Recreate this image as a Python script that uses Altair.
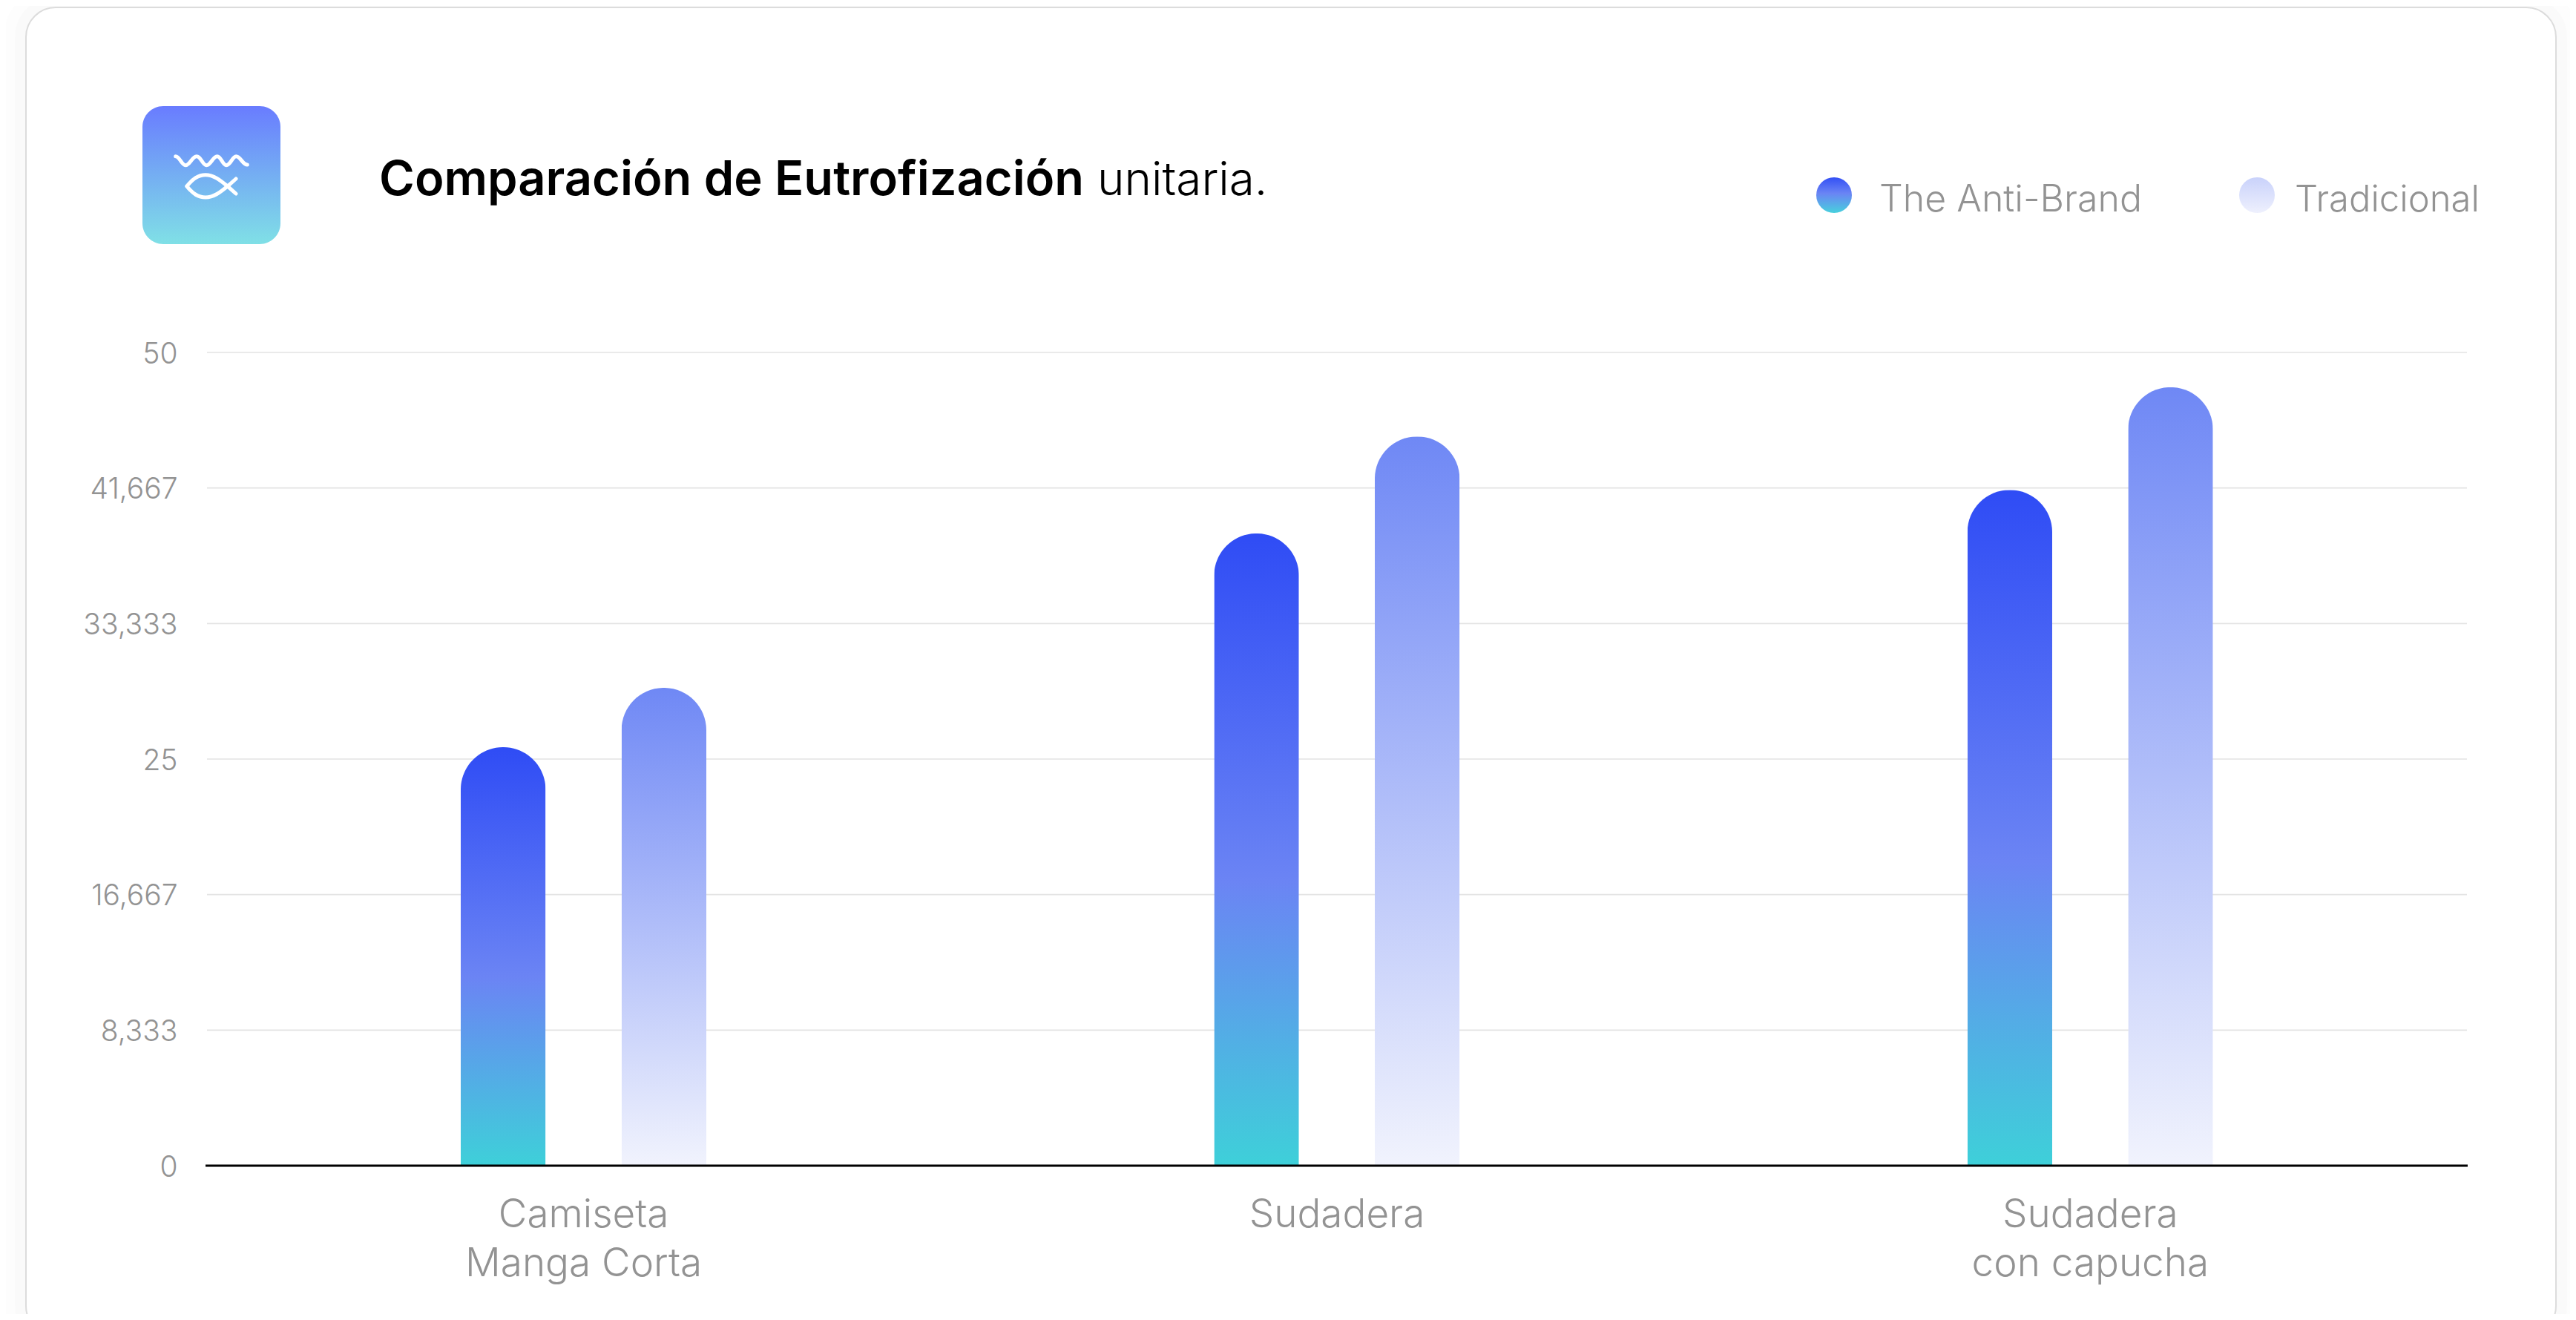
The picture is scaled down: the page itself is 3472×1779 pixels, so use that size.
import altair as alt
import pandas as pd

products = ["Camiseta|\u2002Manga Corta", "Sudadera", "Sudadera|con capucha"]
series_names = ["The Anti-Brand", "Tradicional"]
anti_brand = [25.73, 38.87, 41.55]
tradicional = [29.38, 44.83, 47.86]
tick_values = [0, 50/6, 100/6, 25, 200/6, 250/6, 50]
tick_labels = ["0", "8,333", "16,667", "25", "33,333", "41,667", "50"]

OX, OY, W, H = 279, 475, 3046, 1096
FONT = "Inter"
GREY = "#939393"


def px(v):
    return alt.value(v - OX)


def py(v):
    return alt.value(v - OY)


def grad(stops):
    return alt.LinearGradient(
        gradient="linear", x1=0, x2=0, y1=0, y2=1,
        stops=[alt.GradientStop(offset=o, color=c) for o, c in stops],
    )


BLUE = grad([(0, "#2f4cf5"), (0.55, "#6b84f4"), (1, "#3ed0d9")])
LIGHT = grad([(0, "#6f88f5"), (1, "#f1f3fd")])
ICON = grad([(0, "#697cff"), (1, "#80e0e6")])
DOT_A = grad([(0, "#3350f5"), (0.45, "#6a84f4"), (1, "#47d0dd")])
DOT_B = grad([(0, "#c9d2fb"), (1, "#eef0fd")])

rows = [{"p": p, "s": series_names[0], "v": a} for p, a in zip(products, anti_brand)]
rows += [{"p": p, "s": series_names[1], "v": b} for p, b in zip(products, tradicional)]
data = pd.DataFrame(rows)
one = pd.DataFrame({"a": [0]})
label_map = ",".join(f"{int(v)}:'{t}'" for v, t in zip(tick_values, tick_labels))

x = alt.X(
    "p:N", sort=products, title=None,
    scale=alt.Scale(paddingInner=0, paddingOuter=0),
    axis=alt.Axis(
        labelExpr="split(datum.label, '|')", labelAngle=0, labelFont=FONT, labelFontWeight=300,
        labelFontSize=53, labelColor=GREY, labelPadding=82, labelLineHeight=66, ticks=False,
        domain=False, grid=False, labelBaseline="alphabetic", labelLimit=1000, zindex=1,
    ),
)
y = alt.Y(
    "v:Q", title=None, scale=alt.Scale(domain=[0, 50], nice=False),
    axis=alt.Axis(
        values=tick_values,
        labelExpr="{" + label_map + "}[floor(datum.value)]",
        labelFont=FONT, labelFontWeight=300, labelFontSize=39, labelColor=GREY, labelPadding=40,
        ticks=False, domain=False, grid=False, labelOffset=2, zindex=1,
    ),
)
xo = alt.XOffset(
    "s:N", sort=series_names,
    scale=alt.Scale(paddingInner=0.472, paddingOuter=0, range=[342, 673]),
)


def bars(name, fill):
    return (
        alt.Chart(data[data.s == name])
        .mark_bar(color=fill, cornerRadiusTopLeft=57, cornerRadiusTopRight=57)
        .encode(x=x, y=y, xOffset=xo)
    )


grid = alt.Chart(pd.DataFrame({"v": tick_values[1:]})).mark_rule(
    color="#e3e3e3", strokeWidth=1.6
).encode(y=y)


# decorative layers
def halo(width, op):
    return alt.Chart(one).mark_rect(
        fill="white", fillOpacity=0, stroke="#000000", strokeOpacity=op, strokeWidth=width, cornerRadius=40
    ).encode(x=px(35), x2=px(3445), y=py(10), y2=py(1800))


card = alt.Chart(one).mark_rect(
    fill="white", stroke="#dcdcdc", strokeWidth=2, cornerRadius=40
).encode(x=px(35), x2=px(3445), y=py(10), y2=py(1800))
icon = alt.Chart(one).mark_rect(color=ICON, cornerRadius=28).encode(
    x=px(192), x2=px(378), y=py(143), y2=py(329)
)
fish_path = (
    "M-.483 -.253C-.43 -.253 -.40 -.133 -.35 -.133C-.29 -.133 -.26 -.253 -.20 -.253"
    "C-.14 -.253 -.12 -.133 -.067 -.133C-.01 -.133 .02 -.253 .077 -.253"
    "C.13 -.253 .15 -.133 .20 -.133C.26 -.133 .28 -.253 .333 -.253C.39 -.253 .42 -.14 .483 -.14"
    "M-.333 .15C-.25 .05 -.18 -.003 -.08 -.003C.03 -.003 .12 .07 .217 .15L.33 .25"
    "M-.333 .15C-.25 .25 -.18 .30 -.08 .30C.03 .30 .12 .23 .217 .15L.33 .05"
)
fish = alt.Chart(one).mark_point(
    shape=fish_path, size=40000, filled=False, stroke="white", strokeWidth=5,
    strokeCap="round", opacity=1,
).encode(x=px(285), y=py(236))


def text(s, xp, yp, size, weight=300, color=GREY, font=FONT):
    return alt.Chart(pd.DataFrame({"t": [s]})).mark_text(
        align="left", baseline="alphabetic", font=font, fontSize=size, fontWeight=weight, color=color
    ).encode(text="t:N", x=px(xp), y=py(yp))


title_a = text("Comparación de Eutrofización", 511, 263, 65, 600, "#000000")
title_b = text("unitaria.", 1479, 263, 62, 300, "#000000")


def dot(fill, xp):
    return alt.Chart(one).mark_point(
        shape="circle", size=2304, filled=True, color=fill, opacity=1, strokeWidth=0
    ).encode(x=px(xp), y=py(263))


baseline = alt.Chart(one).mark_rule(color="#000000", strokeWidth=3).encode(
    x=px(277), x2=px(3326), y=py(1571)
)

chart = (
    alt.layer(
        halo(60, 0.006), halo(30, 0.012), card, icon, fish, title_a, title_b,
        dot(DOT_A, 2472), text(series_names[0], 2533, 285, 50),
        dot(DOT_B, 3042), text(series_names[1], 3093, 285, 49),
        grid, bars(series_names[0], BLUE), bars(series_names[1], LIGHT), baseline,
    )
    .properties(
        width=W, height=H, background="#ffffff",
        padding={"left": OX - 8, "top": OY - 8, "right": 3472 - OX - W - 8, "bottom": 1779 - OY - H - 8},
        autosize=alt.AutoSizeParams(type="none"),
    )
    .configure_view(stroke=None)
)
chart.save("out.html", embed_options={"renderer": "svg", "actions": False})
